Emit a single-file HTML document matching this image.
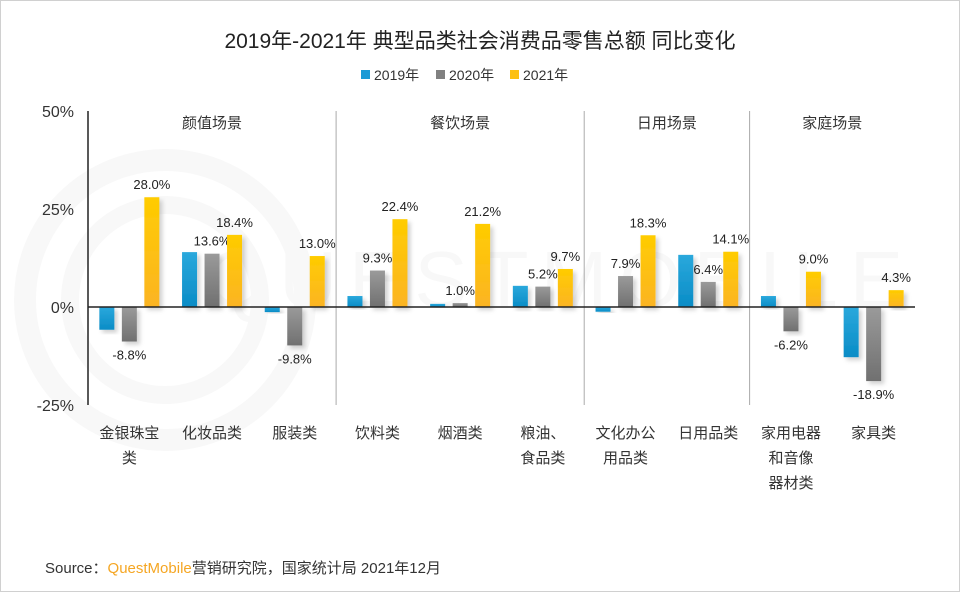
<!DOCTYPE html>
<html><head><meta charset="utf-8">
<style>
html,body{margin:0;padding:0;background:#fff;}
body{width:960px;height:592px;overflow:hidden;}
svg{display:block;font-family:"Liberation Sans","Noto Sans CJK SC",sans-serif;}
</style></head>
<body>
<svg id="chart" width="960" height="592" viewBox="0 0 960 592" xmlns="http://www.w3.org/2000/svg">
<defs>
<linearGradient id="gBlue" x1="0" y1="0" x2="0" y2="1"><stop offset="0" stop-color="#2aa8dc"/><stop offset="1" stop-color="#0a8cc6"/></linearGradient>
<linearGradient id="gGray" x1="0" y1="0" x2="0" y2="1"><stop offset="0" stop-color="#9a9a9a"/><stop offset="1" stop-color="#707070"/></linearGradient>
<linearGradient id="gYellow" x1="0" y1="0" x2="0" y2="1"><stop offset="0" stop-color="#ffcc00"/><stop offset="1" stop-color="#fbb424"/></linearGradient>
<filter id="sh" x="-50%" y="-20%" width="200%" height="140%"><feDropShadow dx="3" dy="3" stdDeviation="2" flood-color="#000" flood-opacity="0.18"/></filter>
</defs>
<rect x="0.5" y="0.5" width="959" height="591" fill="#fff" stroke="#d0d0d0"/>
<g opacity="0.025" fill="none" stroke="#000">
<circle cx="165" cy="300" r="140" stroke-width="22"/>
<circle cx="165" cy="300" r="95" stroke-width="18"/>
<text x="560" y="307" font-size="80" fill="#000" stroke="none" letter-spacing="12" text-anchor="middle">QUESTMOBILE</text>
</g>
<text x="480" y="48" text-anchor="middle" font-size="21" fill="#222">2019年-2021年 典型品类社会消费品零售总额 同比变化</text>
<g id="legend"></g>
<g id="plot"></g>
<text x="45" y="573" font-size="15" fill="#333">Source：<tspan fill="#f5a623">QuestMobile</tspan>营销研究院，国家统计局 2021年12月</text>
</svg>
<script>
const categories = [["金银珠宝","类"],["化妆品类"],["服装类"],["饮料类"],["烟酒类"],["粮油、","食品类"],["文化办公","用品类"],["日用品类"],["家用电器","和音像","器材类"],["家具类"]];
const seriesNames = ["2019年","2020年","2021年"];
const values2019 = [-5.8,14.0,-1.3,2.8,0.8,5.4,-1.2,13.3,2.8,-12.8];
const values2020 = [-8.8,13.6,-9.8,9.3,1.0,5.2,7.9,6.4,-6.2,-18.9];
const values2021 = [28.0,18.4,13.0,22.4,21.2,9.7,18.3,14.1,9.0,4.3];
const scenes = ["颜值场景","餐饮场景","日用场景","家庭场景"];
const sceneBounds = [[0,3],[3,6],[6,8],[8,10]];
const yTicks = [50,25,0,-25];
const yTickLabels = ["50%","25%","0%","-25%"];

const NS="http://www.w3.org/2000/svg";
const x0=88, x1=915, yTop=111, yBot=405, vMax=50, vMin=-25;
const y=v=>yTop+(vMax-v)/(vMax-vMin)*(yBot-yTop);
const step=(x1-x0)/categories.length;
const xCat=i=>x0+step*(i+0.5);
const fills=["url(#gBlue)","url(#gGray)","url(#gYellow)"];
const solid=["#1a9ad6","#808080","#fdc010"];
const plot=document.getElementById('plot');
function mk(tag,attrs,parent){const e=document.createElementNS(NS,tag);for(const k in attrs)e.setAttribute(k,attrs[k]);(parent||plot).appendChild(e);return e;}

yTicks.forEach((t,i)=>{
  const tx=mk('text',{x:74,y:y(t)+6,'text-anchor':'end','font-size':16,fill:'#333'});
  
  
  tx.textContent=yTickLabels[i];
});
const ax=mk('line',{x1:x0,y1:yTop,x2:x0,y2:yBot,stroke:'#222','stroke-width':1.5});



sceneBounds.forEach((b,i)=>{
  if(i>0){
    const l=mk('line',{x1:x0+step*b[0],y1:yTop,x2:x0+step*b[0],y2:yBot,stroke:'#aaa','stroke-width':1});
    
    
  }
  const t=mk('text',{x:x0+step*(b[0]+b[1])/2,y:128,'text-anchor':'middle','font-size':15,fill:'#333'});
  
  
  t.textContent=scenes[i];
});

const allSeries=[values2019,values2020,values2021];
const bw=15, gap=22.5;
allSeries.forEach((vals,s)=>{
  vals.forEach((v,i)=>{
    const cx=xCat(i)+(s-1)*gap;
    const top=Math.min(y(v),y(0)), h=Math.abs(y(v)-y(0));
    const r=mk('rect',{x:cx-bw/2,y:top,width:bw,height:Math.max(h,0.5),fill:fills[s],filter:'url(#sh)'});
    
    
    if(s>0){
      const lbl=mk('text',{x:cx,y:v>=0?y(v)-8:y(v)+18,'text-anchor':'middle','font-size':13,fill:'#222'});
      
      
      lbl.textContent=v.toFixed(1)+'%';
    }
  });
});
const zl=mk('line',{x1:x0,y1:y(0),x2:x1,y2:y(0),stroke:'#222','stroke-width':1.5});



categories.forEach((c,i)=>{
  c.forEach((ln,k)=>{
    const t=mk('text',{x:xCat(i),y:438+k*25,'text-anchor':'middle','font-size':15,fill:'#333'});
    
    
    t.textContent=ln;
  });
});

const lg=document.getElementById('legend');
const lx=[361,436,510];
seriesNames.forEach((n,s)=>{
  const r=mk('rect',{x:lx[s],y:70,width:9,height:9,fill:solid[s]},lg);
  
  
  const t=mk('text',{x:lx[s]+13,y:80,'font-size':14,fill:'#333'},lg);
  
  
  t.textContent=n;
});
</script>
</body></html>
